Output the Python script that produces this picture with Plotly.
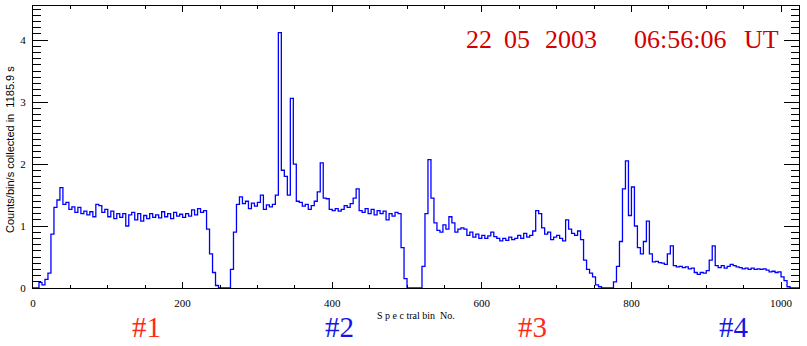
import numpy as np
import plotly.graph_objects as go

# Spectral bins are grouped by 4 (value = mean counts/bin/s over the 4 bins)
bin_group = 4
n_bins = 1024

seg1 = [0, 0, 0.09, 0.05, 0.14, 0.24, 0.87, 1.3, 1.42, 1.62, 1.35, 1.38, 1.27, 1.31, 1.22, 1.3,
        1.2, 1.24, 1.18, 1.23, 1.15, 1.35, 1.33, 1.22, 1.27, 1.15, 1.24, 1.12, 1.2, 1.14, 1.2, 1.0,
        1.18, 1.22, 1.1, 1.2, 1.08, 1.17, 1.12, 1.2, 1.14, 1.18, 1.13, 1.23, 1.15, 1.2, 1.12, 1.22,
        1.16, 1.19, 1.14, 1.2, 1.16, 1.26, 1.18, 1.28, 1.22, 1.25, 0.95, 0.55, 0.25, 0.04, 0, 0]
seg2 = [0, 0, 0.3, 0.9, 1.35, 1.47, 1.36, 1.4, 1.28, 1.37, 1.32, 1.38, 1.5, 1.27, 1.34, 1.31,
        1.35, 1.5, 4.12, 1.9, 1.8, 1.5, 3.06, 2.0, 1.4, 1.38, 1.32, 1.35, 1.27, 1.33, 1.4, 1.55,
        2.02, 1.45, 1.44, 1.27, 1.25, 1.28, 1.24, 1.27, 1.33, 1.3, 1.36, 1.45, 1.6, 1.25, 1.22, 1.28,
        1.2, 1.27, 1.18, 1.25, 1.2, 1.24, 1.1, 1.2, 1.16, 1.22, 1.2, 0.65, 0.15, 0, 0, 0]
seg3 = [0, 0, 0.35, 1.2, 2.07, 1.45, 1.05, 0.93, 0.9, 1.02, 0.95, 1.15, 1.05, 0.9, 0.95, 0.97,
        0.95, 0.85, 0.9, 0.82, 0.87, 0.8, 0.85, 0.8, 0.84, 0.9, 0.83, 0.8, 0.76, 0.8, 0.77, 0.82,
        0.78, 0.8, 0.85, 0.8, 0.88, 0.82, 0.85, 0.92, 1.25, 1.2, 0.97, 0.87, 0.9, 0.78, 0.82, 0.85,
        0.8, 0.76, 1.1, 0.95, 0.88, 0.85, 0.92, 0.78, 0.45, 0.3, 0.24, 0.18, 0.05, 0.02, 0, 0]
seg4 = [0, 0, 0.1, 0.35, 0.75, 1.6, 2.05, 1.17, 1.63, 1.0, 0.65, 0.55, 0.75, 1.08, 0.55, 0.42,
        0.43, 0.41, 0.4, 0.38, 0.55, 0.68, 0.36, 0.34, 0.35, 0.33, 0.34, 0.31, 0.32, 0.25, 0.22, 0.25,
        0.24, 0.28, 0.45, 0.68, 0.36, 0.33, 0.36, 0.32, 0.35, 0.38, 0.36, 0.34, 0.33, 0.31, 0.32, 0.3,
        0.32, 0.3, 0.31, 0.3, 0.31, 0.29, 0.26, 0.27, 0.25, 0.26, 0.18, 0.12, 0.02, 0, 0, 0]

x_ticks = [0, 200, 400, 600, 800, 1000]
y_ticks = [0, 1, 2, 3, 4]
title_tokens = ["22", "05", "2003", "06:56:06", "UT"]
segment_labels = ["#1", "#2", "#3", "#4"]
segment_colors = ["#ff2a14", "#1414e6", "#ff2a14", "#1414e6"]

counts = np.array(seg1 + seg2 + seg3 + seg4)
x = np.arange(0, n_bins, bin_group)
xs = np.append(x, n_bins)
ys = np.append(counts, counts[-1])

fig = go.Figure()
fig.add_trace(go.Scatter(x=xs, y=ys, mode="lines", line=dict(color="#0000ff", width=1.3, shape="hv"),
                         hoverinfo="skip", showlegend=False))

L, R, T, B = 33, 8, 6, 58
W, H = 807, 346
pw, ph = W - L - R, H - T - B

def px(xp):
    return (xp - L) / pw

def py(yp):
    return (H - B - yp) / ph

tick_font = dict(family="Liberation Serif", size=11, color="black")
fig.update_layout(
    width=W, height=H, margin=dict(l=L, r=R, t=T, b=B),
    paper_bgcolor="white", plot_bgcolor="white",
    xaxis=dict(range=[0, n_bins], showgrid=False, zeroline=False, showline=True, linecolor="black",
               linewidth=1, mirror="allticks", ticks="inside", ticklen=6, tickcolor="black",
               tickvals=x_ticks, ticktext=[str(v) for v in x_ticks], tickfont=tick_font,
               ticklabelstandoff=5,
               minor=dict(dtick=50, ticklen=3, ticks="inside", tickcolor="black", showgrid=False)),
    yaxis=dict(range=[0, 4.55], showgrid=False, zeroline=False, showline=True, linecolor="black",
               linewidth=1, mirror="allticks", ticks="inside", ticklen=15, tickcolor="black",
               tickvals=y_ticks, ticktext=[str(v) for v in y_ticks], tickfont=tick_font,
               ticklabelstandoff=4,
               minor=dict(dtick=0.1, ticklen=8, ticks="inside", tickcolor="black", showgrid=False)),
)

ann = []
title_px = [479, 517, 571, 680, 761]
for t, p in zip(title_tokens, title_px):
    ann.append(dict(text=t, x=px(p), y=py(39), xref="paper", yref="paper", showarrow=False,
                    xanchor="center", yanchor="middle",
                    font=dict(family="Liberation Serif", size=26, color="#d20000")))
seg_px = [146, 339, 532, 734]
for t, c, p in zip(segment_labels, segment_colors, seg_px):
    ann.append(dict(text=t, x=px(p), y=py(327), xref="paper", yref="paper", showarrow=False,
                    xanchor="center", yanchor="middle", borderpad=0,
                    font=dict(family="Liberation Serif", size=29, color=c)))
ann.append(dict(text="S p e c tral bin  No.", x=px(416), y=py(315), xref="paper", yref="paper",
                showarrow=False, xanchor="center", yanchor="middle",
                font=dict(family="Liberation Serif", size=10, color="black")))
ann.append(dict(text="Counts/bin/s collected in  1185.9 s", x=px(10), y=py(150), xref="paper",
                yref="paper", showarrow=False, textangle=-90, xanchor="center", yanchor="middle",
                font=dict(family="Liberation Sans", size=11, color="black")))
fig.update_layout(annotations=ann)

fig.write_html("out.html")
